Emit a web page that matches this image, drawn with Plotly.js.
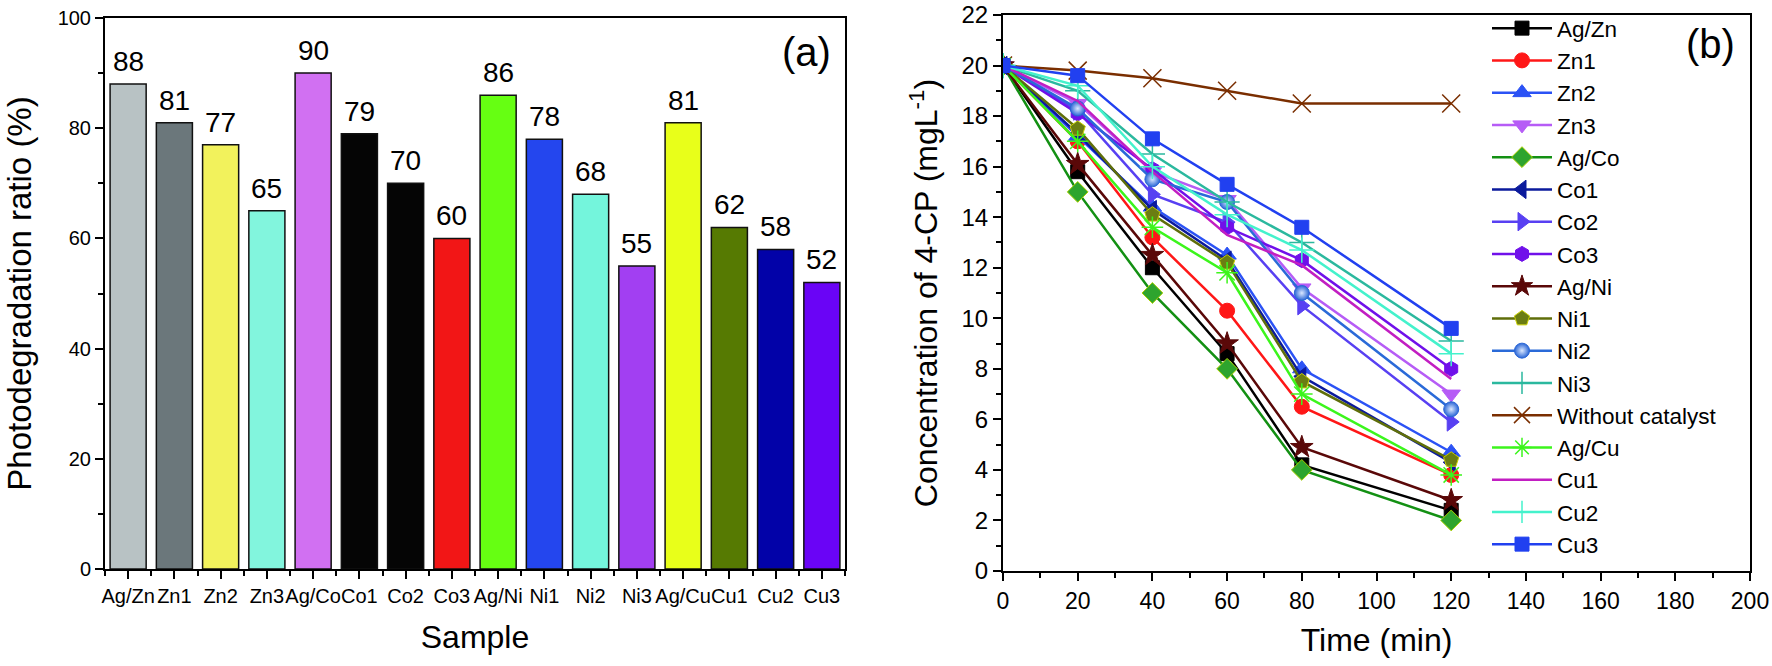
<!DOCTYPE html>
<html>
<head>
<meta charset="utf-8">
<script src="https://cdn.plot.ly/plotly-3.0.1.min.js"></script>
<style>
  html, body { margin: 0; padding: 0; background: #fff; }
  #chart { width: 1772px; height: 666px; }
</style>
</head>
<body>
<div id="chart"></div>
<script>
// (a) photodegradation ratio per sample
const samples = ["Ag/Zn", "Zn1", "Zn2", "Zn3", "Ag/Co", "Co1", "Co2", "Co3",
                 "Ag/Ni", "Ni1", "Ni2", "Ni3", "Ag/Cu", "Cu1", "Cu2", "Cu3"];
const ratios = [88, 81, 77, 65, 90, 79, 70, 60, 86, 78, 68, 55, 81, 62, 58, 52];
const barColors = ["#b8c2c4", "#6b777b", "#f2f25c", "#82f5dd", "#d170f2", "#050505",
                   "#050505", "#f21616", "#66ff12", "#2446ee", "#74f5dc", "#a23ff2",
                   "#e8ff1a", "#567a02", "#0202a8", "#6a04f6"];

// (b) concentration of 4-CP vs time
const times = [0, 20, 40, 60, 80, 120];
const agZn  = [20, 15.8, 12.0, 8.6, 4.2, 2.4];
const zn1   = [20, 17.0, 13.2, 10.3, 6.5, 3.8];
const zn2   = [20, 17.2, 14.4, 12.5, 8.0, 4.7];
const zn3   = [20, 18.5, 15.8, 14.7, 11.2, 7.0];
const agCo  = [20, 15.0, 11.0, 8.0, 4.0, 2.0];
const co1   = [20, 17.3, 14.3, 12.3, 7.7, 4.3];
const co2   = [20, 18.2, 14.9, 13.8, 10.5, 5.9];
const co3   = [20, 18.1, 15.9, 13.6, 12.3, 8.0];
const agNi  = [20, 16.1, 12.5, 9.0, 4.9, 2.8];
const ni1   = [20, 17.5, 14.1, 12.2, 7.5, 4.4];
const ni2   = [20, 18.3, 15.5, 14.6, 11.0, 6.4];
const ni3   = [20, 19.0, 16.5, 14.6, 13.0, 9.1];
const noCat = [20, 19.8, 19.5, 19.0, 18.5, 18.5];
const agCu  = [20, 17.0, 13.6, 11.8, 7.0, 3.8];
const cu1   = [20, 18.6, 15.8, 13.3, 12.1, 7.6];
const cu2   = [20, 19.2, 16.0, 14.1, 12.7, 8.6];
const cu3   = [20, 19.6, 17.1, 15.3, 13.6, 9.6];

const FONT = "Arial, 'Liberation Sans', sans-serif";

let bars = {
  type: "bar",
  x: samples.map((s, i) => i),
  y: ratios,
  width: 0.78,
  marker: { color: barColors, line: { color: "#111", width: 1.5 } },
  showlegend: false,
  hoverinfo: "skip",
  xaxis: "x", yaxis: "y",
};

// value labels sit a little above each bar
let barLabels = ratios.map((v, i) => ({
  text: String(v), x: i, y: v, xref: "x", yref: "y",
  xanchor: "center", yanchor: "bottom", yshift: 5, showarrow: false,
  font: { size: 28, color: "#000" },
}));

function series(name, y, color, symbol, size, extra) {
  let t = {
    type: "scatter",
    mode: "lines+markers",
    name: name,
    x: times,
    y: y,
    xaxis: "x2", yaxis: "y2",
    line: { color: color, width: 2.5 },
    marker: { symbol: symbol, size: size, color: color, line: { color: color, width: 1 } },
  };
  return Object.assign(t, extra || {});
}

let lines = [
  series("Ag/Zn", agZn, "#000000", "square", 14),
  series("Zn1", zn1, "#ff1717", "circle", 15),
  series("Zn2", zn2, "#2b52f5", "triangle-up", 16),
  series("Zn3", zn3, "#b65cf6", "triangle-down", 16),
  series("Ag/Co", agCo, "#139013", "diamond", 16,
         { marker: { symbol: "diamond", size: 16, color: "#2ea42e", line: { color: "#a8d000", width: 1 } } }),
  series("Co1", co1, "#0b1a9c", "triangle-left", 16),
  series("Co2", co2, "#5840f2", "triangle-right", 16),
  series("Co3", co3, "#7010ea", "hexagon", 15),
  series("Ag/Ni", agNi, "#5a0808", "star", 17),
  series("Ni1", ni1, "#5f6e0a", "pentagon", 16,
         { marker: { symbol: "pentagon", size: 16, color: "#6b7d12", line: { color: "#c8d000", width: 1 } } }),
  series("Ni2", ni2, "#2a6ad8", "circle", 15,
         { marker: { symbol: "circle", size: 15, color: "#2a66d6", gradient: { type: "radial", color: "#dbe8ff" }, line: { color: "#2a66d6", width: 1 } } }),
  series("Ni3", ni3, "#2bb89e", "cross-thin-open", 18,
         { marker: { symbol: "cross-thin-open", size: 18, color: "#2bb89e", line: { color: "#2bb89e", width: 1.5 } } }),
  series("Without catalyst", noCat, "#7a2e00", "x-thin-open", 18,
         { marker: { symbol: "x-thin-open", size: 18, color: "#7a2e00", line: { color: "#7a2e00", width: 1.5 } } }),
  series("Ag/Cu", agCu, "#3cf51c", "asterisk-open", 18,
         { marker: { symbol: "asterisk-open", size: 18, color: "#3cf51c", line: { color: "#3cf51c", width: 1.5 } } }),
  series("Cu1", cu1, "#c21ec2", "circle", 1, { mode: "lines" }),
  series("Cu2", cu2, "#44f2cc", "cross-thin-open", 18,
         { marker: { symbol: "cross-thin-open", size: 18, color: "#44f2cc", line: { color: "#44f2cc", width: 1.5 } } }),
  series("Cu3", cu3, "#2140f0", "square", 14),
];

const axisBase = {
  showline: true, linecolor: "#000", linewidth: 2, mirror: true,
  showgrid: false, zeroline: false,
  ticks: "outside", ticklen: 8, tickwidth: 2, tickcolor: "#000",
};

let layout = {
  width: 1772,
  height: 666,
  margin: { l: 0, r: 0, t: 0, b: 0 },
  paper_bgcolor: "#fff",
  plot_bgcolor: "#fff",
  font: { family: FONT, color: "#000" },
  xaxis: Object.assign({}, axisBase, {
    domain: [105 / 1772, 845 / 1772],
    anchor: "y",
    range: [-0.5, samples.length - 0.5],
    tickmode: "array",
    tickvals: samples.map((s, i) => i),
    ticktext: samples,
    tickangle: 0,
    tickfont: { size: 20 },
    minor: { tickmode: "linear", tick0: 0.5, dtick: 1, ticks: "outside", ticklen: 5, tickwidth: 2, tickcolor: "#000" },
    title: { text: "Sample", font: { size: 32 }, standoff: 20 },
  }),
  yaxis: Object.assign({}, axisBase, {
    domain: [1 - 569 / 666, 1 - 18 / 666],
    anchor: "x",
    range: [0, 100],
    dtick: 20,
    tickfont: { size: 20 },
    minor: { dtick: 10, ticks: "outside", ticklen: 5, tickwidth: 2, tickcolor: "#000" },
    title: { text: "Photodegradation ratio (%)", font: { size: 33 }, standoff: 16 },
  }),
  xaxis2: Object.assign({}, axisBase, {
    domain: [1003 / 1772, 1750 / 1772],
    anchor: "y2",
    range: [0, 200],
    dtick: 20,
    tickfont: { size: 23 },
    minor: { dtick: 10, ticks: "outside", ticklen: 5, tickwidth: 2, tickcolor: "#000" },
    title: { text: "Time (min)", font: { size: 32 }, standoff: 16 },
  }),
  yaxis2: Object.assign({}, axisBase, {
    domain: [1 - 571 / 666, 1 - 15 / 666],
    anchor: "x2",
    range: [0, 22],
    dtick: 2,
    tickfont: { size: 24 },
    minor: { dtick: 1, ticks: "outside", ticklen: 5, tickwidth: 2, tickcolor: "#000" },
    title: { text: "Concentration of 4-CP (mgL<sup>-1</sup>)", font: { size: 32 }, standoff: 14 },
  }),
  legend: {
    x: 1487 / 1772, xanchor: "left",
    y: 1 - 7 / 666, yanchor: "top",
    bgcolor: "rgba(0,0,0,0)",
    borderwidth: 0,
    font: { size: 22.5, family: FONT },
    itemwidth: 60,
    tracegroupgap: 0,
  },
  annotations: barLabels.concat([
    { text: "(a)", xref: "paper", yref: "paper", x: 833 / 1772, y: 1 - 52 / 666,
      xanchor: "right", yanchor: "middle", showarrow: false, font: { size: 40 } },
    { text: "(b)", xref: "paper", yref: "paper", x: 1737 / 1772, y: 1 - 44 / 666,
      xanchor: "right", yanchor: "middle", showarrow: false, font: { size: 40 } },
  ]),
};

Plotly.newPlot("chart", [bars].concat(lines), layout, { displayModeBar: false, staticPlot: true });
</script>
</body>
</html>
